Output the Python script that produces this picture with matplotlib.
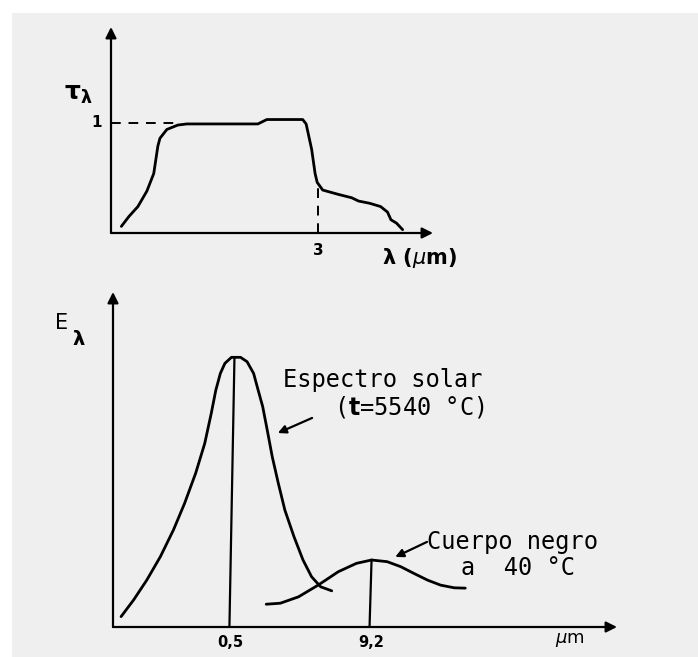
import matplotlib.pyplot as plt
from matplotlib.patches import Rectangle

# Transmisividad del vidrio (arriba)
tau_x = [0.15, 0.26, 0.39, 0.52, 0.62, 0.68, 0.71, 0.81, 0.97, 1.10, 2.13, 2.26,
         2.78, 2.83, 2.91, 2.96, 2.99, 3.07, 3.30, 3.49, 3.59, 3.75, 3.91, 4.01,
         4.06, 4.14, 4.23]
tau_y = [0.06, 0.15, 0.24, 0.38, 0.54, 0.79, 0.86, 0.94, 0.98, 0.99, 0.99, 1.03,
         1.03, 0.99, 0.76, 0.54, 0.46, 0.39, 0.35, 0.32, 0.29, 0.27, 0.24, 0.19,
         0.12, 0.09, 0.03]
tau_ticks = [3]
tau_ticklabels = ["3"]

# Espectro solar y cuerpo negro (abajo)
solar_x = [0.16, 0.41, 0.67, 0.94, 1.20, 1.42, 1.64, 1.82, 1.95, 2.04, 2.13, 2.22,
           2.35, 2.53, 2.66, 2.79, 2.88, 2.97, 3.06, 3.16, 3.28, 3.41, 3.59, 3.77,
           3.94, 4.12, 4.34]
solar_y = [0.31, 0.81, 1.40, 2.10, 2.90, 3.69, 4.59, 5.48, 6.38, 7.07, 7.57, 7.87,
           8.05, 8.05, 7.92, 7.57, 7.07, 6.58, 5.88, 5.08, 4.29, 3.49, 2.70, 2.00,
           1.50, 1.20, 1.08]
negro_x = [3.04, 3.32, 3.68, 4.07, 4.47, 4.83, 5.13, 5.44, 5.71, 5.97, 6.24, 6.50,
           6.77, 6.99]
negro_y = [0.68, 0.71, 0.90, 1.25, 1.65, 1.90, 2.00, 1.95, 1.80, 1.60, 1.40, 1.25,
           1.17, 1.16]
peak_ticks = [2.32, 5.13]
peak_ticklabels = ["0,5", "9,2"]

W, H = 698, 657
fig = plt.figure(figsize=(W / 100, H / 100), dpi=100, facecolor="white")
fig.patches.append(Rectangle((12 / W, 0), 1, (H - 13) / H, transform=fig.transFigure,
                             facecolor="#efefef", edgecolor="none", zorder=-10))

lw_axis = 1.6
lw_curve = 2.0
curve = dict(color="black", lw=lw_curve, solid_capstyle="round", solid_joinstyle="round")
arrow = dict(arrowstyle="-|>", color="black", lw=lw_axis, mutation_scale=16,
             shrinkA=0, shrinkB=0)
small_arrow = dict(arrowstyle="-|>", color="black", lw=1.6, mutation_scale=12,
                   shrinkA=0, shrinkB=0)

# ---------- grafico de arriba ----------
ax1 = fig.add_axes([111 / W, (H - 233) / H, (433 - 111) / W, (233 - 27) / H])
ax1.set_xlim(0, 4.67)
ax1.set_ylim(0, 1.87)
ax1.axis("off")
ax1.annotate("", xy=(4.67, 0), xytext=(0, 0), arrowprops=arrow)
ax1.annotate("", xy=(0, 1.87), xytext=(0, 0), arrowprops=arrow)
ax1.plot(tau_x, tau_y, **curve)
ax1.plot([0, 0.97], [1, 1], color="black", lw=1.4, ls=(0, (5, 4)))
ax1.plot([tau_ticks[0], tau_ticks[0]], [0, 0.42], color="black", lw=1.4, ls=(0, (5, 4)))
for t, lab in zip(tau_ticks, tau_ticklabels):
    ax1.text(t, -0.16, lab, ha="center", va="center", fontsize=11, fontweight="bold")
ax1.text(-0.13, 1.0, "1", ha="right", va="center", fontsize=11, fontweight="bold")
ax1.text(-0.48, 1.26, r"$\mathbf{\tau_{\lambda}}$", ha="center", va="center", fontsize=18)
ax1.text(4.48, -0.23, r"$\mathbf{\lambda}$ ($\mu$m)", ha="center", va="center",
         fontsize=15, fontweight="bold")

# ---------- grafico de abajo ----------
ax2 = fig.add_axes([113 / W, (H - 627) / H, (617 - 113) / W, (627 - 292) / H])
ax2.set_xlim(0, 10)
ax2.set_ylim(0, 10)
ax2.axis("off")
ax2.annotate("", xy=(10, 0), xytext=(0, 0), arrowprops=arrow)
ax2.annotate("", xy=(0, 10), xytext=(0, 0), arrowprops=arrow)
ax2.plot(solar_x, solar_y, **curve)
ax2.plot(negro_x, negro_y, **curve)
ax2.plot([2.31, 2.41], [0, max(solar_y)], color="black", lw=1.6)
ax2.plot([5.09, 5.13], [0, max(negro_y)], color="black", lw=1.6)
for t, lab in zip(peak_ticks, peak_ticklabels):
    ax2.text(t, -0.45, lab, ha="center", va="center", fontsize=10.5, fontweight="bold")
ax2.text(9.07, -0.4, r"$\mu$m", ha="center", va="center", fontsize=13)
ax2.text(-1.03, 9.07, "E", ha="center", va="center", fontsize=15)
ax2.text(-0.67, 8.57, r"$\mathbf{\lambda}$", ha="center", va="center", fontsize=14)

mono = "DejaVu Sans Mono"
ax2.text(3.37, 7.37, "Espectro solar", ha="left", va="center", fontsize=17, family=mono)
ax2.text(4.38, 6.57, r"($\mathbf{t}$=5540 °C)", ha="left", va="center", fontsize=17,
         family=mono)
ax2.annotate("", xy=(3.27, 5.79), xytext=(3.95, 6.24), arrowprops=small_arrow)
ax2.text(6.23, 2.54, "Cuerpo negro", ha="left", va="center", fontsize=17, family=mono)
ax2.text(6.90, 1.76, "a  40 °C", ha="left", va="center", fontsize=17, family=mono)
ax2.annotate("", xy=(5.60, 2.09), xytext=(6.23, 2.54), arrowprops=small_arrow)

fig.savefig("out.png", dpi=100, facecolor=fig.get_facecolor())
